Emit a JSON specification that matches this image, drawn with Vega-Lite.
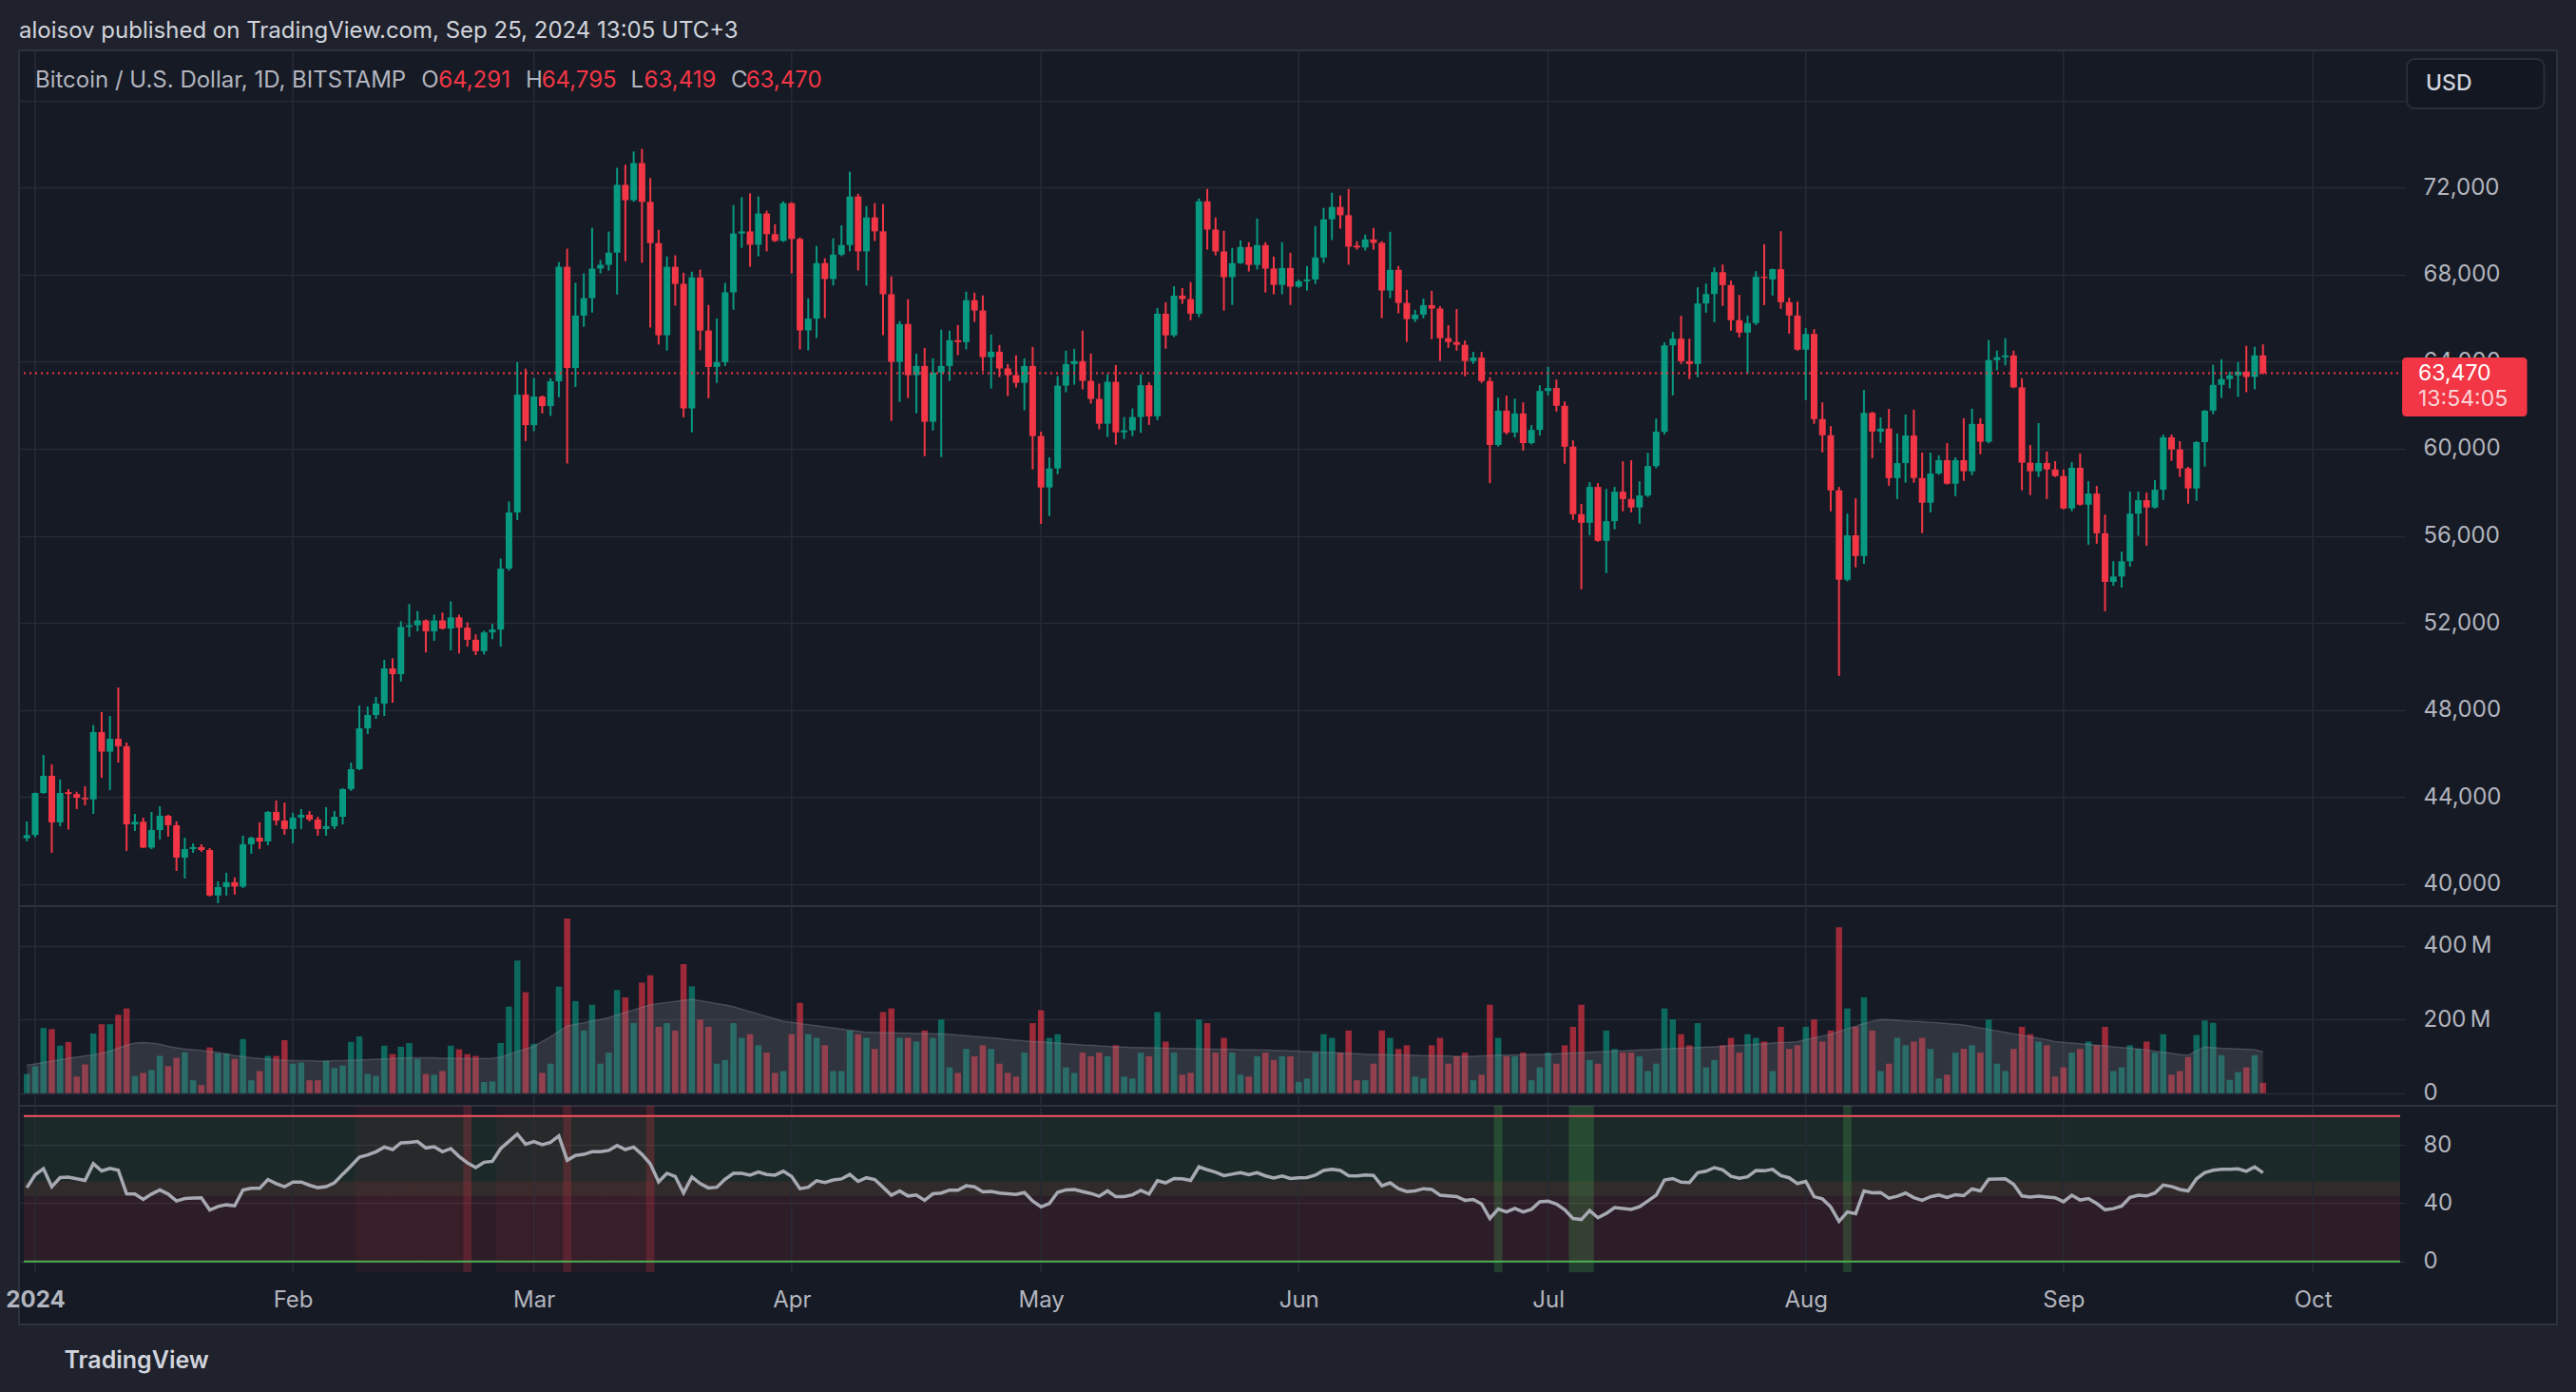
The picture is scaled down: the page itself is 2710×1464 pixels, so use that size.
{
"$schema": "https://vega.github.io/schema/vega-lite/v6.json",
"background": "#1f222c",
"width": 2670, "height": 1340,
"autosize": {"type": "none"},
"padding": {"left": 20, "top": 53, "right": 20, "bottom": 71},
"title": {"text": "aloisov published on TradingView.com, Sep 25, 2024 13:05 UTC+3", "anchor": "start", "frame": "group", "offset": 20, "dy": 25, "baseline": "middle", "fontSize": 24, "fontWeight": 400, "color": "#d1d4dc", "font": "Inter"},
"datasets": {
"one": [{}],
"m": [{"date":"2024-01-01"},{"date":"2024-02-01"},{"date":"2024-03-01"},{"date":"2024-04-01"},{"date":"2024-05-01"},{"date":"2024-06-01"},{"date":"2024-07-01"},{"date":"2024-08-01"},{"date":"2024-09-01"},{"date":"2024-10-01"}],
"d": [
{"date":"2023-12-31","o":42100,"h":42870,"l":41960,"c":42250,"v":52,"vm":76,"r":50.7,"z":""},
{"date":"2024-01-01","o":42250,"h":44200,"l":42150,"c":44180,"v":73,"vm":79,"r":59.6,"z":""},
{"date":"2024-01-02","o":44180,"h":45930,"l":44140,"c":44970,"v":177,"vm":83,"r":63.8,"z":""},
{"date":"2024-01-03","o":44970,"h":45500,"l":41430,"c":42830,"v":174,"vm":87,"r":51.3,"z":""},
{"date":"2024-01-04","o":42830,"h":44800,"l":42650,"c":44180,"v":129,"vm":91,"r":57.6,"z":""},
{"date":"2024-01-05","o":44220,"h":44360,"l":42500,"c":44130,"v":139,"vm":95,"r":57.9,"z":""},
{"date":"2024-01-06","o":44130,"h":44240,"l":43440,"c":43960,"v":45,"vm":98,"r":56.8,"z":""},
{"date":"2024-01-07","o":43960,"h":44490,"l":43615,"c":43890,"v":78,"vm":101,"r":55.7,"z":""},
{"date":"2024-01-08","o":43890,"h":47300,"l":43220,"c":46980,"v":162,"vm":104,"r":67.2,"z":""},
{"date":"2024-01-09","o":46980,"h":47895,"l":44880,"c":46080,"v":187,"vm":108,"r":62.2,"z":""},
{"date":"2024-01-10","o":46080,"h":47720,"l":44315,"c":46670,"v":187,"vm":114,"r":64,"z":""},
{"date":"2024-01-11","o":46670,"h":49030,"l":45580,"c":46330,"v":213,"vm":122,"r":62.7,"z":""},
{"date":"2024-01-12","o":46330,"h":46500,"l":41520,"c":42740,"v":230,"vm":130,"r":46.5,"z":""},
{"date":"2024-01-13","o":42740,"h":43220,"l":42435,"c":42860,"v":47,"vm":136,"r":46.3,"z":""},
{"date":"2024-01-14","o":42860,"h":43050,"l":41650,"c":41670,"v":55,"vm":137,"r":42.6,"z":""},
{"date":"2024-01-15","o":41670,"h":43310,"l":41600,"c":42480,"v":63,"vm":136,"r":46.3,"z":""},
{"date":"2024-01-16","o":42480,"h":43570,"l":42045,"c":43135,"v":101,"vm":133,"r":49.1,"z":""},
{"date":"2024-01-17","o":43135,"h":43180,"l":42175,"c":42700,"v":73,"vm":127,"r":46.3,"z":""},
{"date":"2024-01-18","o":42700,"h":42875,"l":40600,"c":41215,"v":96,"vm":123,"r":41.5,"z":""},
{"date":"2024-01-19","o":41215,"h":42130,"l":40255,"c":41605,"v":111,"vm":120,"r":43.2,"z":""},
{"date":"2024-01-20","o":41605,"h":41870,"l":41430,"c":41695,"v":35,"vm":118,"r":43.5,"z":""},
{"date":"2024-01-21","o":41695,"h":41825,"l":41475,"c":41560,"v":22,"vm":116,"r":43.7,"z":""},
{"date":"2024-01-22","o":41560,"h":41650,"l":39425,"c":39470,"v":124,"vm":113,"r":35.4,"z":""},
{"date":"2024-01-23","o":39470,"h":40120,"l":39120,"c":39860,"v":108,"vm":110,"r":37.8,"z":""},
{"date":"2024-01-24","o":39860,"h":40515,"l":39470,"c":40080,"v":108,"vm":106,"r":38.9,"z":""},
{"date":"2024-01-25","o":40080,"h":40300,"l":39510,"c":39880,"v":93,"vm":102,"r":38.2,"z":""},
{"date":"2024-01-26","o":39880,"h":42220,"l":39815,"c":41825,"v":147,"vm":99,"r":49.1,"z":""},
{"date":"2024-01-27","o":41825,"h":42175,"l":41390,"c":42130,"v":35,"vm":96,"r":50.2,"z":""},
{"date":"2024-01-28","o":42130,"h":42830,"l":41610,"c":41955,"v":60,"vm":94,"r":50.2,"z":""},
{"date":"2024-01-29","o":41955,"h":43350,"l":41780,"c":43310,"v":101,"vm":92,"r":56.3,"z":""},
{"date":"2024-01-30","o":43310,"h":43835,"l":42700,"c":42915,"v":101,"vm":90,"r":53.5,"z":""},
{"date":"2024-01-31","o":42915,"h":43745,"l":42260,"c":42525,"v":144,"vm":89,"r":51.3,"z":""},
{"date":"2024-02-01","o":42525,"h":43270,"l":41870,"c":43050,"v":80,"vm":88,"r":54.6,"z":""},
{"date":"2024-02-02","o":43050,"h":43440,"l":42525,"c":43180,"v":83,"vm":88,"r":54.6,"z":""},
{"date":"2024-02-03","o":43180,"h":43355,"l":42875,"c":42960,"v":35,"vm":88,"r":52.4,"z":""},
{"date":"2024-02-04","o":42960,"h":43090,"l":42220,"c":42525,"v":35,"vm":87,"r":50.7,"z":""},
{"date":"2024-02-05","o":42525,"h":43530,"l":42220,"c":42655,"v":88,"vm":87,"r":51.4,"z":""},
{"date":"2024-02-06","o":42655,"h":43355,"l":42525,"c":43090,"v":68,"vm":88,"r":54,"z":""},
{"date":"2024-02-07","o":43090,"h":44400,"l":42740,"c":44360,"v":75,"vm":88,"r":60,"z":""},
{"date":"2024-02-08","o":44360,"h":45580,"l":44270,"c":45275,"v":139,"vm":89,"r":65.6,"z":""},
{"date":"2024-02-09","o":45275,"h":48200,"l":45230,"c":47150,"v":154,"vm":90,"r":71.7,"z":"ob"},
{"date":"2024-02-10","o":47150,"h":48160,"l":46890,"c":47765,"v":52,"vm":91,"r":73.2,"z":"ob"},
{"date":"2024-02-11","o":47765,"h":48595,"l":47590,"c":48290,"v":47,"vm":92,"r":75.4,"z":"ob"},
{"date":"2024-02-12","o":48290,"h":50300,"l":47720,"c":49905,"v":129,"vm":93,"r":78.6,"z":"ob"},
{"date":"2024-02-13","o":49905,"h":50370,"l":48330,"c":49640,"v":106,"vm":94,"r":76.9,"z":"ob"},
{"date":"2024-02-14","o":49640,"h":52078,"l":49300,"c":51813,"v":126,"vm":95,"r":81.5,"z":"ob"},
{"date":"2024-02-15","o":51813,"h":52860,"l":51360,"c":51890,"v":136,"vm":96,"r":81.9,"z":"ob"},
{"date":"2024-02-16","o":51890,"h":52547,"l":51610,"c":52110,"v":93,"vm":96,"r":82.4,"z":"ob"},
{"date":"2024-02-17","o":52110,"h":52157,"l":50640,"c":51610,"v":52,"vm":96,"r":78,"z":"ob"},
{"date":"2024-02-18","o":51610,"h":52375,"l":51170,"c":52110,"v":50,"vm":96,"r":78.9,"z":"ob"},
{"date":"2024-02-19","o":52110,"h":52470,"l":51690,"c":51735,"v":60,"vm":95,"r":75.4,"z":"ob"},
{"date":"2024-02-20","o":51735,"h":52985,"l":50735,"c":52250,"v":129,"vm":95,"r":77.6,"z":"ob"},
{"date":"2024-02-21","o":52250,"h":52375,"l":50595,"c":51780,"v":119,"vm":94,"r":72.1,"z":"ob"},
{"date":"2024-02-22","o":51780,"h":52030,"l":50905,"c":51220,"v":106,"vm":94,"r":67.8,"z":"x"},
{"date":"2024-02-23","o":51220,"h":51470,"l":50515,"c":50700,"v":101,"vm":93,"r":64.5,"z":""},
{"date":"2024-02-24","o":50700,"h":51640,"l":50545,"c":51560,"v":30,"vm":94,"r":68.2,"z":""},
{"date":"2024-02-25","o":51560,"h":51950,"l":51250,"c":51690,"v":32,"vm":95,"r":68.8,"z":""},
{"date":"2024-02-26","o":51690,"h":54955,"l":50905,"c":54490,"v":136,"vm":98,"r":77.6,"z":"ob"},
{"date":"2024-02-27","o":54490,"h":57580,"l":54400,"c":57070,"v":235,"vm":105,"r":82.6,"z":"ob"},
{"date":"2024-02-28","o":57070,"h":63980,"l":56720,"c":62490,"v":360,"vm":113,"r":87.6,"z":"ob"},
{"date":"2024-02-29","o":62490,"h":63680,"l":60350,"c":61085,"v":274,"vm":120,"r":80.6,"z":"ob"},
{"date":"2024-03-01","o":61085,"h":63240,"l":60805,"c":62400,"v":134,"vm":127,"r":82.4,"z":"ob"},
{"date":"2024-03-02","o":62400,"h":62450,"l":61620,"c":61960,"v":55,"vm":140,"r":80.2,"z":"ob"},
{"date":"2024-03-03","o":61960,"h":63240,"l":61510,"c":63100,"v":80,"vm":153,"r":81.9,"z":"ob"},
{"date":"2024-03-04","o":63100,"h":68575,"l":62370,"c":68360,"v":289,"vm":167,"r":86.3,"z":"ob"},
{"date":"2024-03-05","o":68360,"h":69190,"l":59320,"c":63710,"v":474,"vm":182,"r":69.5,"z":"x"},
{"date":"2024-03-06","o":63710,"h":67620,"l":62840,"c":66120,"v":250,"vm":187,"r":72.8,"z":"ob"},
{"date":"2024-03-07","o":66120,"h":68060,"l":65605,"c":66920,"v":170,"vm":191,"r":73.6,"z":"ob"},
{"date":"2024-03-08","o":66920,"h":70155,"l":66260,"c":68280,"v":240,"vm":196,"r":75.4,"z":"ob"},
{"date":"2024-03-09","o":68280,"h":68670,"l":68060,"c":68450,"v":80,"vm":200,"r":75.4,"z":"ob"},
{"date":"2024-03-10","o":68450,"h":69980,"l":68185,"c":69010,"v":110,"vm":205,"r":76.3,"z":"ob"},
{"date":"2024-03-11","o":69010,"h":72905,"l":67090,"c":72125,"v":280,"vm":212,"r":79.7,"z":"ob"},
{"date":"2024-03-12","o":72125,"h":73050,"l":68620,"c":71420,"v":260,"vm":219,"r":76.9,"z":"ob"},
{"date":"2024-03-13","o":71420,"h":73660,"l":71345,"c":73125,"v":190,"vm":226,"r":78.6,"z":"ob"},
{"date":"2024-03-14","o":73125,"h":73780,"l":68545,"c":71345,"v":300,"vm":233,"r":73.6,"z":"ob"},
{"date":"2024-03-15","o":71345,"h":72440,"l":65570,"c":69450,"v":320,"vm":240,"r":67.1,"z":"x"},
{"date":"2024-03-16","o":69450,"h":70060,"l":64790,"c":65215,"v":180,"vm":243,"r":54.7,"z":""},
{"date":"2024-03-17","o":65215,"h":68840,"l":64510,"c":68360,"v":190,"vm":246,"r":60.6,"z":""},
{"date":"2024-03-18","o":68360,"h":68890,"l":66575,"c":67575,"v":170,"vm":249,"r":58.4,"z":""},
{"date":"2024-03-19","o":67575,"h":68090,"l":61445,"c":61850,"v":350,"vm":252,"r":47.1,"z":""},
{"date":"2024-03-20","o":61850,"h":68135,"l":60755,"c":67870,"v":290,"vm":255,"r":58,"z":""},
{"date":"2024-03-21","o":67870,"h":68230,"l":64530,"c":65430,"v":200,"vm":251,"r":53.5,"z":""},
{"date":"2024-03-22","o":65430,"h":66605,"l":62320,"c":63760,"v":180,"vm":247,"r":50.5,"z":""},
{"date":"2024-03-23","o":63760,"h":65990,"l":63025,"c":63980,"v":80,"vm":243,"r":51,"z":""},
{"date":"2024-03-24","o":63980,"h":67620,"l":63805,"c":67185,"v":90,"vm":239,"r":56.5,"z":""},
{"date":"2024-03-25","o":67185,"h":71200,"l":66390,"c":69890,"v":190,"vm":235,"r":60.5,"z":""},
{"date":"2024-03-26","o":69890,"h":71560,"l":69230,"c":69985,"v":150,"vm":228,"r":60.5,"z":""},
{"date":"2024-03-27","o":69985,"h":71735,"l":68360,"c":69375,"v":160,"vm":221,"r":59.3,"z":""},
{"date":"2024-03-28","o":69375,"h":71595,"l":68840,"c":70810,"v":130,"vm":215,"r":61.5,"z":""},
{"date":"2024-03-29","o":70810,"h":70935,"l":69070,"c":69860,"v":110,"vm":208,"r":59.8,"z":""},
{"date":"2024-03-30","o":69860,"h":70320,"l":69500,"c":69550,"v":55,"vm":202,"r":59.3,"z":""},
{"date":"2024-03-31","o":69550,"h":71370,"l":69500,"c":71285,"v":60,"vm":195,"r":62,"z":""},
{"date":"2024-04-01","o":71285,"h":71330,"l":68060,"c":69640,"v":160,"vm":192,"r":58.5,"z":""},
{"date":"2024-04-02","o":69640,"h":69710,"l":64560,"c":65440,"v":245,"vm":189,"r":50,"z":""},
{"date":"2024-04-03","o":65440,"h":66910,"l":64520,"c":65980,"v":160,"vm":186,"r":51,"z":""},
{"date":"2024-04-04","o":65980,"h":69315,"l":65090,"c":68530,"v":150,"vm":183,"r":55.5,"z":""},
{"date":"2024-04-05","o":68530,"h":68750,"l":66005,"c":67800,"v":130,"vm":180,"r":54.3,"z":""},
{"date":"2024-04-06","o":67800,"h":69670,"l":67495,"c":68920,"v":60,"vm":177,"r":56,"z":""},
{"date":"2024-04-07","o":68920,"h":70265,"l":68850,"c":69360,"v":60,"vm":174,"r":56.7,"z":""},
{"date":"2024-04-08","o":69360,"h":72730,"l":69070,"c":71590,"v":170,"vm":171,"r":59.8,"z":""},
{"date":"2024-04-09","o":71590,"h":71720,"l":68195,"c":69070,"v":160,"vm":168,"r":55,"z":""},
{"date":"2024-04-10","o":69070,"h":71155,"l":67495,"c":70630,"v":150,"vm":165,"r":57.5,"z":""},
{"date":"2024-04-11","o":70630,"h":71285,"l":69550,"c":69990,"v":120,"vm":165,"r":56.3,"z":""},
{"date":"2024-04-12","o":69990,"h":71240,"l":65220,"c":67100,"v":220,"vm":164,"r":51,"z":""},
{"date":"2024-04-13","o":67100,"h":67915,"l":61280,"c":63995,"v":230,"vm":164,"r":45.5,"z":""},
{"date":"2024-04-14","o":63995,"h":65860,"l":62155,"c":65730,"v":150,"vm":163,"r":48.5,"z":""},
{"date":"2024-04-15","o":65730,"h":66870,"l":62330,"c":63380,"v":150,"vm":163,"r":45,"z":""},
{"date":"2024-04-16","o":63380,"h":64370,"l":61630,"c":63805,"v":140,"vm":162,"r":45.7,"z":""},
{"date":"2024-04-17","o":63805,"h":64635,"l":59660,"c":61240,"v":170,"vm":162,"r":42,"z":""},
{"date":"2024-04-18","o":61240,"h":64155,"l":60845,"c":63500,"v":150,"vm":161,"r":46.5,"z":""},
{"date":"2024-04-19","o":63500,"h":65470,"l":59620,"c":63805,"v":200,"vm":161,"r":47,"z":""},
{"date":"2024-04-20","o":63805,"h":65425,"l":63120,"c":64985,"v":70,"vm":160,"r":49,"z":""},
{"date":"2024-04-21","o":64985,"h":65685,"l":64300,"c":64900,"v":55,"vm":158,"r":48.9,"z":""},
{"date":"2024-04-22","o":64900,"h":67220,"l":64560,"c":66825,"v":120,"vm":156,"r":52,"z":""},
{"date":"2024-04-23","o":66825,"h":67175,"l":65830,"c":66355,"v":100,"vm":154,"r":51.3,"z":""},
{"date":"2024-04-24","o":66355,"h":67045,"l":63555,"c":64210,"v":130,"vm":152,"r":47.8,"z":""},
{"date":"2024-04-25","o":64210,"h":65250,"l":62770,"c":64460,"v":120,"vm":150,"r":48.2,"z":""},
{"date":"2024-04-26","o":64460,"h":64765,"l":63295,"c":63690,"v":80,"vm":148,"r":47,"z":""},
{"date":"2024-04-27","o":63690,"h":63890,"l":62420,"c":63380,"v":55,"vm":146,"r":46.5,"z":""},
{"date":"2024-04-28","o":63380,"h":64290,"l":62815,"c":63030,"v":45,"vm":144,"r":46,"z":""},
{"date":"2024-04-29","o":63030,"h":64155,"l":61765,"c":63805,"v":110,"vm":142,"r":47.3,"z":""},
{"date":"2024-04-30","o":63805,"h":64680,"l":59050,"c":60580,"v":190,"vm":140,"r":41.5,"z":""},
{"date":"2024-05-01","o":60580,"h":60785,"l":56550,"c":58220,"v":225,"vm":139,"r":37.5,"z":""},
{"date":"2024-05-02","o":58220,"h":59605,"l":56905,"c":59095,"v":150,"vm":137,"r":39.8,"z":""},
{"date":"2024-05-03","o":59095,"h":63340,"l":58830,"c":62900,"v":160,"vm":136,"r":47.5,"z":""},
{"date":"2024-05-04","o":62900,"h":64505,"l":62595,"c":63890,"v":70,"vm":134,"r":49.2,"z":""},
{"date":"2024-05-05","o":63890,"h":64590,"l":62945,"c":64025,"v":55,"vm":133,"r":49.4,"z":""},
{"date":"2024-05-06","o":64025,"h":65430,"l":62725,"c":63120,"v":110,"vm":131,"r":48,"z":""},
{"date":"2024-05-07","o":63120,"h":64375,"l":62070,"c":62290,"v":100,"vm":130,"r":46.7,"z":""},
{"date":"2024-05-08","o":62290,"h":62990,"l":60890,"c":61150,"v":110,"vm":128,"r":44.8,"z":""},
{"date":"2024-05-09","o":61150,"h":63425,"l":60540,"c":63075,"v":100,"vm":127,"r":48.5,"z":""},
{"date":"2024-05-10","o":63075,"h":63850,"l":60190,"c":60755,"v":130,"vm":125,"r":44.5,"z":""},
{"date":"2024-05-11","o":60755,"h":61455,"l":60450,"c":60845,"v":45,"vm":125,"r":44.6,"z":""},
{"date":"2024-05-12","o":60845,"h":61850,"l":60580,"c":61455,"v":40,"vm":124,"r":45.8,"z":""},
{"date":"2024-05-13","o":61455,"h":63425,"l":60730,"c":62920,"v":110,"vm":124,"r":48.8,"z":""},
{"date":"2024-05-14","o":62920,"h":63050,"l":61095,"c":61490,"v":100,"vm":123,"r":46.3,"z":""},
{"date":"2024-05-15","o":61490,"h":66470,"l":61310,"c":66205,"v":220,"vm":123,"r":55.5,"z":""},
{"date":"2024-05-16","o":66205,"h":66730,"l":64600,"c":65210,"v":140,"vm":122,"r":54,"z":""},
{"date":"2024-05-17","o":65210,"h":67470,"l":65125,"c":67035,"v":110,"vm":122,"r":57,"z":""},
{"date":"2024-05-18","o":67035,"h":67385,"l":66655,"c":66880,"v":50,"vm":121,"r":56.8,"z":""},
{"date":"2024-05-19","o":66880,"h":67650,"l":65910,"c":66205,"v":55,"vm":121,"r":55.7,"z":""},
{"date":"2024-05-20","o":66205,"h":71500,"l":66045,"c":71370,"v":200,"vm":120,"r":65,"z":""},
{"date":"2024-05-21","o":71370,"h":71940,"l":69150,"c":70070,"v":190,"vm":120,"r":63,"z":""},
{"date":"2024-05-22","o":70070,"h":70630,"l":68890,"c":69065,"v":110,"vm":119,"r":61.3,"z":""},
{"date":"2024-05-23","o":69065,"h":70015,"l":66350,"c":67885,"v":150,"vm":119,"r":59,"z":""},
{"date":"2024-05-24","o":67885,"h":69225,"l":66610,"c":68525,"v":110,"vm":119,"r":60,"z":""},
{"date":"2024-05-25","o":68525,"h":69575,"l":68495,"c":69270,"v":50,"vm":118,"r":61,"z":""},
{"date":"2024-05-26","o":69270,"h":69490,"l":68145,"c":68450,"v":45,"vm":118,"r":59.6,"z":""},
{"date":"2024-05-27","o":68450,"h":70585,"l":68235,"c":69360,"v":100,"vm":117,"r":61,"z":""},
{"date":"2024-05-28","o":69360,"h":69490,"l":67180,"c":68280,"v":110,"vm":117,"r":58.8,"z":""},
{"date":"2024-05-29","o":68280,"h":68830,"l":67095,"c":67530,"v":90,"vm":116,"r":57.4,"z":""},
{"date":"2024-05-30","o":67530,"h":69490,"l":67095,"c":68305,"v":100,"vm":116,"r":58.8,"z":""},
{"date":"2024-05-31","o":68305,"h":69005,"l":66610,"c":67445,"v":100,"vm":115,"r":57,"z":""},
{"date":"2024-06-01","o":67445,"h":67780,"l":67400,"c":67695,"v":30,"vm":114,"r":57.5,"z":""},
{"date":"2024-06-02","o":67695,"h":68395,"l":67270,"c":67780,"v":40,"vm":113,"r":57.6,"z":""},
{"date":"2024-06-03","o":67780,"h":70235,"l":67575,"c":68790,"v":110,"vm":112,"r":59.3,"z":""},
{"date":"2024-06-04","o":68790,"h":71065,"l":68540,"c":70540,"v":160,"vm":111,"r":62.5,"z":""},
{"date":"2024-06-05","o":70540,"h":71765,"l":69590,"c":71110,"v":150,"vm":110,"r":63.3,"z":""},
{"date":"2024-06-06","o":71110,"h":71635,"l":70115,"c":70730,"v":110,"vm":109,"r":62.5,"z":""},
{"date":"2024-06-07","o":70730,"h":71940,"l":68455,"c":69285,"v":170,"vm":108,"r":59,"z":""},
{"date":"2024-06-08","o":69330,"h":69535,"l":69150,"c":69250,"v":35,"vm":107,"r":58.8,"z":""},
{"date":"2024-06-09","o":69250,"h":69840,"l":69110,"c":69620,"v":35,"vm":106,"r":59.5,"z":""},
{"date":"2024-06-10","o":69620,"h":70145,"l":69150,"c":69460,"v":80,"vm":105,"r":59.1,"z":""},
{"date":"2024-06-11","o":69460,"h":69535,"l":66000,"c":67270,"v":170,"vm":105,"r":52,"z":""},
{"date":"2024-06-12","o":67270,"h":69970,"l":66920,"c":68220,"v":150,"vm":104,"r":54,"z":""},
{"date":"2024-06-13","o":68220,"h":68395,"l":66220,"c":66700,"v":120,"vm":104,"r":50,"z":""},
{"date":"2024-06-14","o":66700,"h":67300,"l":64905,"c":65955,"v":130,"vm":103,"r":48,"z":""},
{"date":"2024-06-15","o":65955,"h":66380,"l":65825,"c":66160,"v":45,"vm":103,"r":48.5,"z":""},
{"date":"2024-06-16","o":66160,"h":66905,"l":65995,"c":66600,"v":40,"vm":102,"r":50,"z":""},
{"date":"2024-06-17","o":66600,"h":67255,"l":65035,"c":66440,"v":130,"vm":102,"r":49.5,"z":""},
{"date":"2024-06-18","o":66440,"h":66555,"l":64030,"c":65080,"v":150,"vm":101,"r":45.5,"z":""},
{"date":"2024-06-19","o":65080,"h":65680,"l":64640,"c":64905,"v":80,"vm":101,"r":45,"z":""},
{"date":"2024-06-20","o":64905,"h":66420,"l":64510,"c":64775,"v":100,"vm":100,"r":44.6,"z":""},
{"date":"2024-06-21","o":64775,"h":64975,"l":63330,"c":64030,"v":110,"vm":100,"r":42,"z":""},
{"date":"2024-06-22","o":64030,"h":64450,"l":63900,"c":64190,"v":35,"vm":100,"r":42.6,"z":""},
{"date":"2024-06-23","o":64190,"h":64450,"l":63020,"c":63110,"v":50,"vm":101,"r":39.5,"z":""},
{"date":"2024-06-24","o":63110,"h":63285,"l":58420,"c":60175,"v":240,"vm":102,"r":29.5,"z":""},
{"date":"2024-06-25","o":60175,"h":62350,"l":60100,"c":61750,"v":150,"vm":103,"r":36,"z":"os"},
{"date":"2024-06-26","o":61750,"h":62440,"l":60655,"c":60745,"v":100,"vm":103,"r":34,"z":""},
{"date":"2024-06-27","o":60745,"h":62305,"l":60525,"c":61620,"v":100,"vm":104,"r":36.5,"z":""},
{"date":"2024-06-28","o":61620,"h":62130,"l":59910,"c":60260,"v":110,"vm":104,"r":34,"z":""},
{"date":"2024-06-29","o":60260,"h":61085,"l":60200,"c":60865,"v":35,"vm":105,"r":35.8,"z":""},
{"date":"2024-06-30","o":60865,"h":62920,"l":60605,"c":62655,"v":70,"vm":105,"r":41,"z":""},
{"date":"2024-07-01","o":62655,"h":63760,"l":62450,"c":62790,"v":110,"vm":106,"r":41.4,"z":""},
{"date":"2024-07-02","o":62790,"h":63180,"l":61710,"c":61975,"v":80,"vm":107,"r":39.5,"z":""},
{"date":"2024-07-03","o":61975,"h":62175,"l":59310,"c":60095,"v":130,"vm":108,"r":35.5,"z":""},
{"date":"2024-07-04","o":60095,"h":60385,"l":56735,"c":56995,"v":180,"vm":109,"r":29.5,"z":"os"},
{"date":"2024-07-05","o":56995,"h":57460,"l":53540,"c":56600,"v":240,"vm":110,"r":28.8,"z":"os"},
{"date":"2024-07-06","o":56600,"h":58465,"l":56030,"c":58245,"v":90,"vm":111,"r":35,"z":"os"},
{"date":"2024-07-07","o":58245,"h":58420,"l":55725,"c":55770,"v":80,"vm":112,"r":30,"z":""},
{"date":"2024-07-08","o":55770,"h":58155,"l":54285,"c":56670,"v":170,"vm":113,"r":33,"z":""},
{"date":"2024-07-09","o":56670,"h":58245,"l":56295,"c":58025,"v":120,"vm":114,"r":37,"z":""},
{"date":"2024-07-10","o":58025,"h":59425,"l":57125,"c":57690,"v":110,"vm":115,"r":36.4,"z":""},
{"date":"2024-07-11","o":57690,"h":59470,"l":57080,"c":57300,"v":110,"vm":116,"r":35.8,"z":""},
{"date":"2024-07-12","o":57300,"h":58505,"l":56555,"c":57850,"v":100,"vm":117,"r":37.6,"z":""},
{"date":"2024-07-13","o":57850,"h":59815,"l":57780,"c":59205,"v":60,"vm":118,"r":41.5,"z":""},
{"date":"2024-07-14","o":59205,"h":61390,"l":59100,"c":60780,"v":80,"vm":119,"r":45.5,"z":""},
{"date":"2024-07-15","o":60780,"h":64885,"l":60660,"c":64750,"v":230,"vm":120,"r":56,"z":""},
{"date":"2024-07-16","o":64750,"h":65365,"l":62450,"c":65060,"v":200,"vm":121,"r":57,"z":""},
{"date":"2024-07-17","o":65060,"h":66110,"l":63895,"c":64025,"v":160,"vm":122,"r":54.5,"z":""},
{"date":"2024-07-18","o":64025,"h":65060,"l":63195,"c":63895,"v":130,"vm":123,"r":54.2,"z":""},
{"date":"2024-07-19","o":63895,"h":67420,"l":63285,"c":66675,"v":190,"vm":124,"r":61,"z":""},
{"date":"2024-07-20","o":66675,"h":67590,"l":66255,"c":67110,"v":70,"vm":125,"r":62,"z":""},
{"date":"2024-07-21","o":67110,"h":68335,"l":65815,"c":68115,"v":90,"vm":126,"r":64.5,"z":""},
{"date":"2024-07-22","o":68115,"h":68465,"l":66560,"c":67520,"v":130,"vm":127,"r":63,"z":""},
{"date":"2024-07-23","o":67520,"h":67725,"l":65425,"c":65905,"v":150,"vm":129,"r":58.5,"z":""},
{"date":"2024-07-24","o":65905,"h":67070,"l":65115,"c":65335,"v":110,"vm":130,"r":57.2,"z":""},
{"date":"2024-07-25","o":65335,"h":66110,"l":63445,"c":65775,"v":160,"vm":131,"r":58.2,"z":""},
{"date":"2024-07-26","o":65775,"h":68160,"l":65685,"c":67900,"v":150,"vm":133,"r":62.5,"z":""},
{"date":"2024-07-27","o":67900,"h":69400,"l":66600,"c":67840,"v":140,"vm":134,"r":62.3,"z":""},
{"date":"2024-07-28","o":67780,"h":68280,"l":67040,"c":68250,"v":60,"vm":136,"r":63.3,"z":""},
{"date":"2024-07-29","o":68250,"h":69995,"l":66430,"c":66735,"v":180,"vm":137,"r":59,"z":""},
{"date":"2024-07-30","o":66735,"h":66940,"l":65290,"c":66120,"v":120,"vm":138,"r":57.5,"z":""},
{"date":"2024-07-31","o":66120,"h":66760,"l":64505,"c":64550,"v":130,"vm":140,"r":53.5,"z":""},
{"date":"2024-08-01","o":64550,"h":65540,"l":62235,"c":65275,"v":180,"vm":145,"r":55,"z":""},
{"date":"2024-08-02","o":65275,"h":65495,"l":61140,"c":61360,"v":200,"vm":150,"r":44.5,"z":""},
{"date":"2024-08-03","o":61360,"h":62130,"l":59830,"c":60620,"v":140,"vm":155,"r":43,"z":""},
{"date":"2024-08-04","o":60620,"h":61040,"l":57125,"c":58085,"v":170,"vm":160,"r":37.5,"z":""},
{"date":"2024-08-05","o":58085,"h":58245,"l":49565,"c":53980,"v":450,"vm":168,"r":27.5,"z":""},
{"date":"2024-08-06","o":53980,"h":57020,"l":53900,"c":56020,"v":230,"vm":175,"r":34,"z":"os"},
{"date":"2024-08-07","o":56020,"h":57720,"l":54550,"c":55070,"v":180,"vm":182,"r":32.8,"z":""},
{"date":"2024-08-08","o":55070,"h":62700,"l":54710,"c":61650,"v":260,"vm":189,"r":48.5,"z":""},
{"date":"2024-08-09","o":61650,"h":61700,"l":59570,"c":60790,"v":170,"vm":195,"r":47.2,"z":""},
{"date":"2024-08-10","o":60790,"h":61435,"l":60270,"c":60925,"v":60,"vm":200,"r":47.4,"z":""},
{"date":"2024-08-11","o":60925,"h":61830,"l":58300,"c":58650,"v":80,"vm":199,"r":43.5,"z":""},
{"date":"2024-08-12","o":58650,"h":60700,"l":57690,"c":59340,"v":150,"vm":198,"r":44.8,"z":""},
{"date":"2024-08-13","o":59340,"h":61575,"l":58440,"c":60610,"v":130,"vm":196,"r":47,"z":""},
{"date":"2024-08-14","o":60610,"h":61795,"l":58440,"c":58655,"v":140,"vm":195,"r":43.8,"z":""},
{"date":"2024-08-15","o":58655,"h":59825,"l":56120,"c":57520,"v":150,"vm":194,"r":42,"z":""},
{"date":"2024-08-16","o":57520,"h":59825,"l":57080,"c":58860,"v":120,"vm":192,"r":44.5,"z":""},
{"date":"2024-08-17","o":58860,"h":59695,"l":58800,"c":59475,"v":40,"vm":191,"r":45.6,"z":""},
{"date":"2024-08-18","o":59475,"h":60260,"l":58350,"c":58395,"v":50,"vm":189,"r":43.9,"z":""},
{"date":"2024-08-19","o":58395,"h":59605,"l":57825,"c":59475,"v":110,"vm":187,"r":45.9,"z":""},
{"date":"2024-08-20","o":59475,"h":61400,"l":58525,"c":58965,"v":120,"vm":185,"r":45.2,"z":""},
{"date":"2024-08-21","o":58965,"h":61840,"l":58790,"c":61140,"v":130,"vm":181,"r":49.8,"z":""},
{"date":"2024-08-22","o":61140,"h":61400,"l":59750,"c":60320,"v":110,"vm":177,"r":48.5,"z":""},
{"date":"2024-08-23","o":60320,"h":64995,"l":60250,"c":64075,"v":200,"vm":173,"r":56.5,"z":""},
{"date":"2024-08-24","o":64075,"h":64510,"l":63605,"c":64205,"v":80,"vm":169,"r":56.7,"z":""},
{"date":"2024-08-25","o":64205,"h":65080,"l":63825,"c":64290,"v":60,"vm":165,"r":56.8,"z":""},
{"date":"2024-08-26","o":64290,"h":64510,"l":62780,"c":62820,"v":120,"vm":161,"r":53,"z":""},
{"date":"2024-08-27","o":62820,"h":63240,"l":58090,"c":59360,"v":180,"vm":157,"r":45,"z":""},
{"date":"2024-08-28","o":59360,"h":60175,"l":57870,"c":58965,"v":160,"vm":153,"r":44.2,"z":""},
{"date":"2024-08-29","o":58965,"h":61180,"l":58700,"c":59345,"v":140,"vm":149,"r":44.8,"z":""},
{"date":"2024-08-30","o":59345,"h":59870,"l":57690,"c":59050,"v":130,"vm":145,"r":44.3,"z":""},
{"date":"2024-08-31","o":59050,"h":59430,"l":58700,"c":58745,"v":45,"vm":140,"r":43.8,"z":""},
{"date":"2024-09-01","o":58745,"h":59050,"l":57210,"c":57255,"v":70,"vm":138,"r":41,"z":""},
{"date":"2024-09-02","o":57255,"h":59390,"l":57125,"c":59125,"v":110,"vm":136,"r":45.5,"z":""},
{"date":"2024-09-03","o":59125,"h":59780,"l":57385,"c":57430,"v":120,"vm":134,"r":42.2,"z":""},
{"date":"2024-09-04","o":57430,"h":58510,"l":55590,"c":57940,"v":140,"vm":132,"r":43.2,"z":""},
{"date":"2024-09-05","o":57940,"h":58290,"l":55635,"c":56115,"v":130,"vm":130,"r":39.8,"z":""},
{"date":"2024-09-06","o":56115,"h":56975,"l":52525,"c":53880,"v":180,"vm":128,"r":35.5,"z":""},
{"date":"2024-09-07","o":53880,"h":54830,"l":53705,"c":54130,"v":60,"vm":126,"r":36.3,"z":""},
{"date":"2024-09-08","o":54130,"h":55270,"l":53620,"c":54830,"v":70,"vm":124,"r":38,"z":""},
{"date":"2024-09-09","o":54830,"h":58030,"l":54585,"c":57020,"v":130,"vm":122,"r":44,"z":""},
{"date":"2024-09-10","o":57020,"h":58030,"l":56000,"c":57635,"v":120,"vm":120,"r":45.5,"z":""},
{"date":"2024-09-11","o":57635,"h":57985,"l":55545,"c":57300,"v":140,"vm":117,"r":45,"z":""},
{"date":"2024-09-12","o":57300,"h":58555,"l":57250,"c":58115,"v":110,"vm":114,"r":47,"z":""},
{"date":"2024-09-13","o":58115,"h":60655,"l":57650,"c":60525,"v":160,"vm":111,"r":52.5,"z":""},
{"date":"2024-09-14","o":60525,"h":60655,"l":59445,"c":59970,"v":50,"vm":108,"r":51.5,"z":""},
{"date":"2024-09-15","o":59970,"h":60350,"l":58700,"c":59095,"v":60,"vm":105,"r":49.5,"z":""},
{"date":"2024-09-16","o":59095,"h":59170,"l":57475,"c":58175,"v":98,"vm":103,"r":48.5,"z":""},
{"date":"2024-09-17","o":58175,"h":60350,"l":57605,"c":60305,"v":158,"vm":115,"r":56.8,"z":""},
{"date":"2024-09-18","o":60305,"h":61780,"l":59180,"c":61750,"v":197,"vm":125,"r":61,"z":""},
{"date":"2024-09-19","o":61750,"h":63855,"l":61590,"c":62935,"v":191,"vm":124,"r":62.7,"z":""},
{"date":"2024-09-20","o":62935,"h":64115,"l":62335,"c":63200,"v":103,"vm":122,"r":63.3,"z":""},
{"date":"2024-09-21","o":63200,"h":63545,"l":62775,"c":63370,"v":36,"vm":121,"r":63.3,"z":""},
{"date":"2024-09-22","o":63370,"h":63985,"l":62380,"c":63545,"v":57,"vm":120,"r":63.7,"z":""},
{"date":"2024-09-23","o":63545,"h":64730,"l":62600,"c":63300,"v":70,"vm":119,"r":62,"z":""},
{"date":"2024-09-24","o":63300,"h":64685,"l":62730,"c":64291,"v":103,"vm":118,"r":65,"z":""},
{"date":"2024-09-25","o":64291,"h":64795,"l":63419,"c":63470,"v":28,"vm":112,"r":61,"z":""}
]
},
"resolve": {"scale": {"y": "independent"}, "axis": {"y": "independent"}},
"layer": [
{
"layer": [
{"data": {"name": "m"}, "mark": {"type": "rule", "color": "#272b37", "strokeWidth": 1.5},
"encoding": {
"x": {"field": "date", "type": "temporal", "scale": {"type": "utc", "range": [0, 2510], "domain": [{"year":2023,"month":12,"date":30,"hours":15,"minutes":7,"utc":true},{"year":2024,"month":10,"date":11,"hours":12,"utc":true}]}},
"y": {"datum": 78305, "type": "quantitative", "scale": {"domain": [38982, 78305], "range": [900, 0], "zero": false, "nice": false},
"axis": {"orient": "left", "values": [40000,44000,48000,52000,56000,60000,64000,68000,72000,76000], "labelExpr": "datum.value > 73000 ? '' : format(datum.value, ',d')", "labelAlign": "left", "labelBaseline": "middle", "labelPadding": -2529, "ticks": false, "tickSize": 0, "domain": false, "grid": true, "title": null, "labelOverlap": false, "labelFontSize": 24, "labelColor": "#b2b5be", "labelFont": "Inter"}},
"y2": {"datum": 38982}}},
{"data": {"name": "d"},
"encoding": {
"x": {"field": "date", "type": "temporal"},
"color": {"condition": {"test": "datum.c >= datum.o", "value": "#089981"}, "value": "#f23645"}
},
"layer": [
{"mark": {"type": "rule", "strokeWidth": 2}, "encoding": {"y": {"field": "l", "type": "quantitative"}, "y2": {"field": "h"}}},
{"mark": {"type": "bar", "width": 7}, "encoding": {"y": {"field": "o", "type": "quantitative"}, "y2": {"field": "c"}}}
]
},
{"data": {"name": "d"}, "transform": [{"filter": {"field": "date", "equal": {"year":2024,"month":9,"date":25,"utc":true}}}],
"mark": {"type": "rule", "color": "#f23645", "strokeWidth": 2, "strokeDash": [2, 4]},
"encoding": {"x": {"datum": {"year":2023,"month":12,"date":30,"hours":15,"minutes":7,"utc":true}, "type": "temporal"}, "x2": {"datum": {"year":2024,"month":10,"date":11,"hours":12,"utc":true}}, "y": {"field": "c", "type": "quantitative"}}},
{"data": {"name": "one"}, "mark": {"type": "text", "align": "left", "baseline": "middle", "fontSize": 24, "font": "Inter", "color": "#b2b5be"},
"encoding": {"x": {"datum": {"year":2024,"month":1,"date":1,"hours":0,"minutes":0,"utc":true}, "type": "temporal"}, "y": {"datum": 76906, "type": "quantitative"}, "text": {"value": "Bitcoin / U.S. Dollar, 1D, BITSTAMP"}}},
{"data": {"name": "one"}, "mark": {"type": "text", "align": "left", "baseline": "middle", "fontSize": 24, "font": "Inter", "color": "#b2b5be"},
"encoding": {"x": {"datum": {"year":2024,"month":2,"date":16,"hours":11,"minutes":17,"utc":true}, "type": "temporal"}, "y": {"datum": 76906, "type": "quantitative"}, "text": {"value": "O"}}},
{"data": {"name": "one"}, "mark": {"type": "text", "align": "left", "baseline": "middle", "fontSize": 24, "font": "Inter", "color": "#b2b5be"},
"encoding": {"x": {"datum": {"year":2024,"month":2,"date":29,"hours":0,"minutes":0,"utc":true}, "type": "temporal"}, "y": {"datum": 76906, "type": "quantitative"}, "text": {"value": "H"}}},
{"data": {"name": "one"}, "mark": {"type": "text", "align": "left", "baseline": "middle", "fontSize": 24, "font": "Inter", "color": "#b2b5be"},
"encoding": {"x": {"datum": {"year":2024,"month":3,"date":12,"hours":15,"minutes":22,"utc":true}, "type": "temporal"}, "y": {"datum": 76906, "type": "quantitative"}, "text": {"value": "L"}}},
{"data": {"name": "one"}, "mark": {"type": "text", "align": "left", "baseline": "middle", "fontSize": 24, "font": "Inter", "color": "#b2b5be"},
"encoding": {"x": {"datum": {"year":2024,"month":3,"date":24,"hours":17,"minutes":2,"utc":true}, "type": "temporal"}, "y": {"datum": 76906, "type": "quantitative"}, "text": {"value": "C"}}},
{"data": {"name": "d"}, "transform": [{"filter": {"field": "date", "equal": {"year":2024,"month":9,"date":25,"utc":true}}}],
"mark": {"type": "text", "align": "left", "baseline": "middle", "fontSize": 24, "font": "Inter", "color": "#f23645"},
"encoding": {"x": {"datum": {"year":2024,"month":2,"date":18,"hours":12,"minutes":0,"utc":true}, "type": "temporal"}, "y": {"datum": 76906, "type": "quantitative"}, "text": {"field": "o", "type": "quantitative", "format": ",d"}}},
{"data": {"name": "d"}, "transform": [{"filter": {"field": "date", "equal": {"year":2024,"month":9,"date":25,"utc":true}}}],
"mark": {"type": "text", "align": "left", "baseline": "middle", "fontSize": 24, "font": "Inter", "color": "#f23645"},
"encoding": {"x": {"datum": {"year":2024,"month":3,"date":1,"hours":22,"minutes":0,"utc":true}, "type": "temporal"}, "y": {"datum": 76906, "type": "quantitative"}, "text": {"field": "h", "type": "quantitative", "format": ",d"}}},
{"data": {"name": "d"}, "transform": [{"filter": {"field": "date", "equal": {"year":2024,"month":9,"date":25,"utc":true}}}],
"mark": {"type": "text", "align": "left", "baseline": "middle", "fontSize": 24, "font": "Inter", "color": "#f23645"},
"encoding": {"x": {"datum": {"year":2024,"month":3,"date":14,"hours":6,"minutes":0,"utc":true}, "type": "temporal"}, "y": {"datum": 76906, "type": "quantitative"}, "text": {"field": "l", "type": "quantitative", "format": ",d"}}},
{"data": {"name": "d"}, "transform": [{"filter": {"field": "date", "equal": {"year":2024,"month":9,"date":25,"utc":true}}}],
"mark": {"type": "text", "align": "left", "baseline": "middle", "fontSize": 24, "font": "Inter", "color": "#f23645"},
"encoding": {"x": {"datum": {"year":2024,"month":3,"date":26,"hours":12,"minutes":0,"utc":true}, "type": "temporal"}, "y": {"datum": 76906, "type": "quantitative"}, "text": {"field": "c", "type": "quantitative", "format": ",d"}}},
{"data": {"name": "one"}, "mark": {"type": "rect", "fill": "#131722", "stroke": "#2a2e39", "strokeWidth": 2, "cornerRadius": 8},
"encoding": {"x": {"datum": {"year":2024,"month":10,"date":12,"hours":7,"minutes":26,"utc":true}, "type": "temporal"}, "x2": {"datum": {"year":2024,"month":10,"date":28,"hours":19,"minutes":41,"utc":true}}, "y": {"datum": 77911, "type": "quantitative"}, "y2": {"datum": 75640}}},
{"data": {"name": "one"}, "mark": {"type": "text", "align": "left", "baseline": "middle", "fontSize": 23, "fontWeight": 500, "font": "Inter", "color": "#d1d4dc"},
"encoding": {"x": {"datum": {"year":2024,"month":10,"date":14,"hours":14,"minutes":10,"utc":true}, "type": "temporal"}, "y": {"datum": 76775, "type": "quantitative"}, "text": {"value": "USD"}}},
{"data": {"name": "one"}, "mark": {"type": "rect", "fill": "#f23645", "cornerRadius": 4},
"encoding": {"x": {"datum": {"year":2024,"month":10,"date":11,"hours":17,"minutes":46,"utc":true}, "type": "temporal"}, "x2": {"datum": {"year":2024,"month":10,"date":26,"hours":18,"minutes":29,"utc":true}}, "y": {"datum": 64192, "type": "quantitative"}, "y2": {"datum": 61483}}},
{"data": {"name": "d"}, "transform": [{"filter": {"field": "date", "equal": {"year":2024,"month":9,"date":25,"utc":true}}}],
"mark": {"type": "text", "align": "left", "baseline": "middle", "fontSize": 23, "font": "Inter", "color": "#ffffff"},
"encoding": {"x": {"datum": {"year":2024,"month":10,"date":13,"hours":16,"minutes":5,"utc":true}, "type": "temporal"}, "y": {"field": "c", "type": "quantitative"}, "text": {"field": "c", "type": "quantitative", "format": ",d"}}},
{"data": {"name": "one"}, "mark": {"type": "text", "align": "left", "baseline": "middle", "fontSize": 23, "font": "Inter", "color": "#fbd3d7"},
"encoding": {"x": {"datum": {"year":2024,"month":10,"date":13,"hours":16,"minutes":5,"utc":true}, "type": "temporal"}, "y": {"datum": 62270, "type": "quantitative"}, "text": {"value": "13:54:05"}}},
{"data": {"name": "one"}, "mark": {"type": "rule", "color": "#2e323e", "strokeWidth": 2},
"encoding": {"y": {"datum": 38982, "type": "quantitative"}}}
]
},
{
"layer": [
{"data": {"name": "m"}, "mark": {"type": "rule", "color": "#272b37", "strokeWidth": 1.5},
"encoding": {
"x": {"field": "date", "type": "temporal"},
"y": {"datum": 507.6, "type": "quantitative", "scale": {"domain": [-34.3, 507.6], "range": [1110, 900], "zero": false, "nice": false},
"axis": {"orient": "left", "values": [0, 200, 400], "labelExpr": "datum.value == 0 ? '0' : datum.value + '\u2009M'", "labelAlign": "left", "labelBaseline": "middle", "labelPadding": -2529, "ticks": false, "tickSize": 0, "domain": false, "grid": true, "title": null, "labelOverlap": false, "labelFontSize": 24, "labelColor": "#b2b5be", "labelFont": "Inter"}},
"y2": {"datum": -34.3}}},
{"data": {"name": "d"}, "mark": {"type": "bar", "width": 6.5, "opacity": 0.62},
"encoding": {"x": {"field": "date", "type": "temporal"}, "y": {"field": "v", "type": "quantitative"}, "y2": {"datum": 0},
"color": {"condition": {"test": "datum.c >= datum.o", "value": "#089981"}, "value": "#f23645"}}},
{"data": {"name": "d"}, "mark": {"type": "area", "color": "#787b86", "opacity": 0.28, "line": {"color": "#8a8d97", "strokeWidth": 1.5, "opacity": 0.35}},
"encoding": {"x": {"field": "date", "type": "temporal"}, "y": {"field": "vm", "type": "quantitative"}, "y2": {"datum": 0}}},
{"data": {"name": "one"}, "mark": {"type": "rule", "color": "#2e323e", "strokeWidth": 2},
"encoding": {"y": {"datum": -34.3, "type": "quantitative"}}}
]
},
{
"layer": [
{"data": {"name": "one"}, "mark": {"type": "rect", "color": "#4caf50", "opacity": 0.11},
"encoding": {"x": {"datum": {"year":2023,"month":12,"date":30,"hours":15,"minutes":7,"utc":true}, "type": "temporal"}, "x2": {"datum": {"year":2024,"month":10,"date":11,"hours":12,"utc":true}},
"y": {"datum": 100, "type": "quantitative", "scale": {"domain": [-43.4, 107], "range": [1340, 1110], "zero": false, "nice": false},
"axis": {"orient": "left", "values": [0, 40, 80], "labelAlign": "left", "labelBaseline": "middle", "labelPadding": -2529, "ticks": false, "tickSize": 0, "domain": false, "grid": true, "title": null, "labelOverlap": false, "labelFontSize": 24, "labelColor": "#b2b5be", "labelFont": "Inter"}},
"y2": {"datum": 45}}},
{"data": {"name": "one"}, "mark": {"type": "rect", "color": "#f23645", "opacity": 0.1},
"encoding": {"x": {"datum": {"year":2023,"month":12,"date":30,"hours":15,"minutes":7,"utc":true}, "type": "temporal"}, "x2": {"datum": {"year":2024,"month":10,"date":11,"hours":12,"utc":true}}, "y": {"datum": 55, "type": "quantitative"}, "y2": {"datum": 0}}},
{"data": {"name": "m"}, "mark": {"type": "rule", "color": "#272b37", "strokeWidth": 1.5},
"encoding": {
"x": {"field": "date", "type": "temporal",
"axis": {"values": [{"year":2024,"month":1,"date":1,"utc":true},{"year":2024,"month":2,"date":1,"utc":true},{"year":2024,"month":3,"date":1,"utc":true},{"year":2024,"month":4,"date":1,"utc":true},{"year":2024,"month":5,"date":1,"utc":true},{"year":2024,"month":6,"date":1,"utc":true},{"year":2024,"month":7,"date":1,"utc":true},{"year":2024,"month":8,"date":1,"utc":true},{"year":2024,"month":9,"date":1,"utc":true},{"year":2024,"month":10,"date":1,"utc":true}],
"labelExpr": "utcmonth(datum.value) === 0 ? '2024' : utcFormat(datum.value, '%b')",
"labelFontWeight": {"condition": {"test": "utcmonth(datum.value) === 0", "value": 700}, "value": 400},
"orient": "bottom", "grid": false, "ticks": false, "tickSize": 0, "domain": false, "labelPadding": -26, "labelBaseline": "middle", "labelFlush": false, "labelOverlap": false,
"labelFontSize": 24, "labelColor": "#b2b5be", "labelFont": "Inter",
"title": "TradingView", "titleX": 47, "titleY": 37, "titleAlign": "left", "titleAnchor": "start", "titleBaseline": "middle", "titleFontSize": 25, "titleFontWeight": 600, "titleColor": "#d1d4dc", "titleFont": "Inter"}},
"y": {"datum": 107, "type": "quantitative"}, "y2": {"datum": -7.4}}},
{"data": {"name": "d"}, "transform": [{"filter": "datum.z == 'ob'"}], "mark": {"type": "bar", "width": 8.8, "color": "#f23645", "opacity": 0.06},
"encoding": {"x": {"field": "date", "type": "temporal"}, "y": {"datum": 107, "type": "quantitative"}, "y2": {"datum": -7.4}}},
{"data": {"name": "d"}, "transform": [{"filter": "datum.z == 'x'"}], "mark": {"type": "bar", "width": 8.8, "color": "#f23645", "opacity": 0.24},
"encoding": {"x": {"field": "date", "type": "temporal"}, "y": {"datum": 107, "type": "quantitative"}, "y2": {"datum": -7.4}}},
{"data": {"name": "d"}, "transform": [{"filter": "datum.z == 'os'"}], "mark": {"type": "bar", "width": 8.8, "color": "#4caf50", "opacity": 0.25},
"encoding": {"x": {"field": "date", "type": "temporal"}, "y": {"datum": 107, "type": "quantitative"}, "y2": {"datum": -7.4}}},
{"data": {"name": "one"}, "mark": {"type": "rule", "color": "#f7525f", "strokeWidth": 2},
"encoding": {"x": {"datum": {"year":2023,"month":12,"date":30,"hours":15,"minutes":7,"utc":true}, "type": "temporal"}, "x2": {"datum": {"year":2024,"month":10,"date":11,"hours":12,"utc":true}}, "y": {"datum": 100, "type": "quantitative"}}},
{"data": {"name": "one"}, "mark": {"type": "rule", "color": "#4caf50", "strokeWidth": 2},
"encoding": {"x": {"datum": {"year":2023,"month":12,"date":30,"hours":15,"minutes":7,"utc":true}, "type": "temporal"}, "x2": {"datum": {"year":2024,"month":10,"date":11,"hours":12,"utc":true}}, "y": {"datum": 0, "type": "quantitative"}}},
{"data": {"name": "d"}, "mark": {"type": "line", "color": "#a6a9b2", "strokeWidth": 3.5},
"encoding": {"x": {"field": "date", "type": "temporal"}, "y": {"field": "r", "type": "quantitative"}}}
]
}
],
"config": {
"font": "Inter",
"view": {"fill": "#161a25", "stroke": "#2e323e", "strokeWidth": 2},
"axis": {"gridColor": "#272b37", "gridWidth": 1.5, "labelFont": "Inter", "titleFont": "Inter"},
"text": {"font": "Inter"}
}
}
